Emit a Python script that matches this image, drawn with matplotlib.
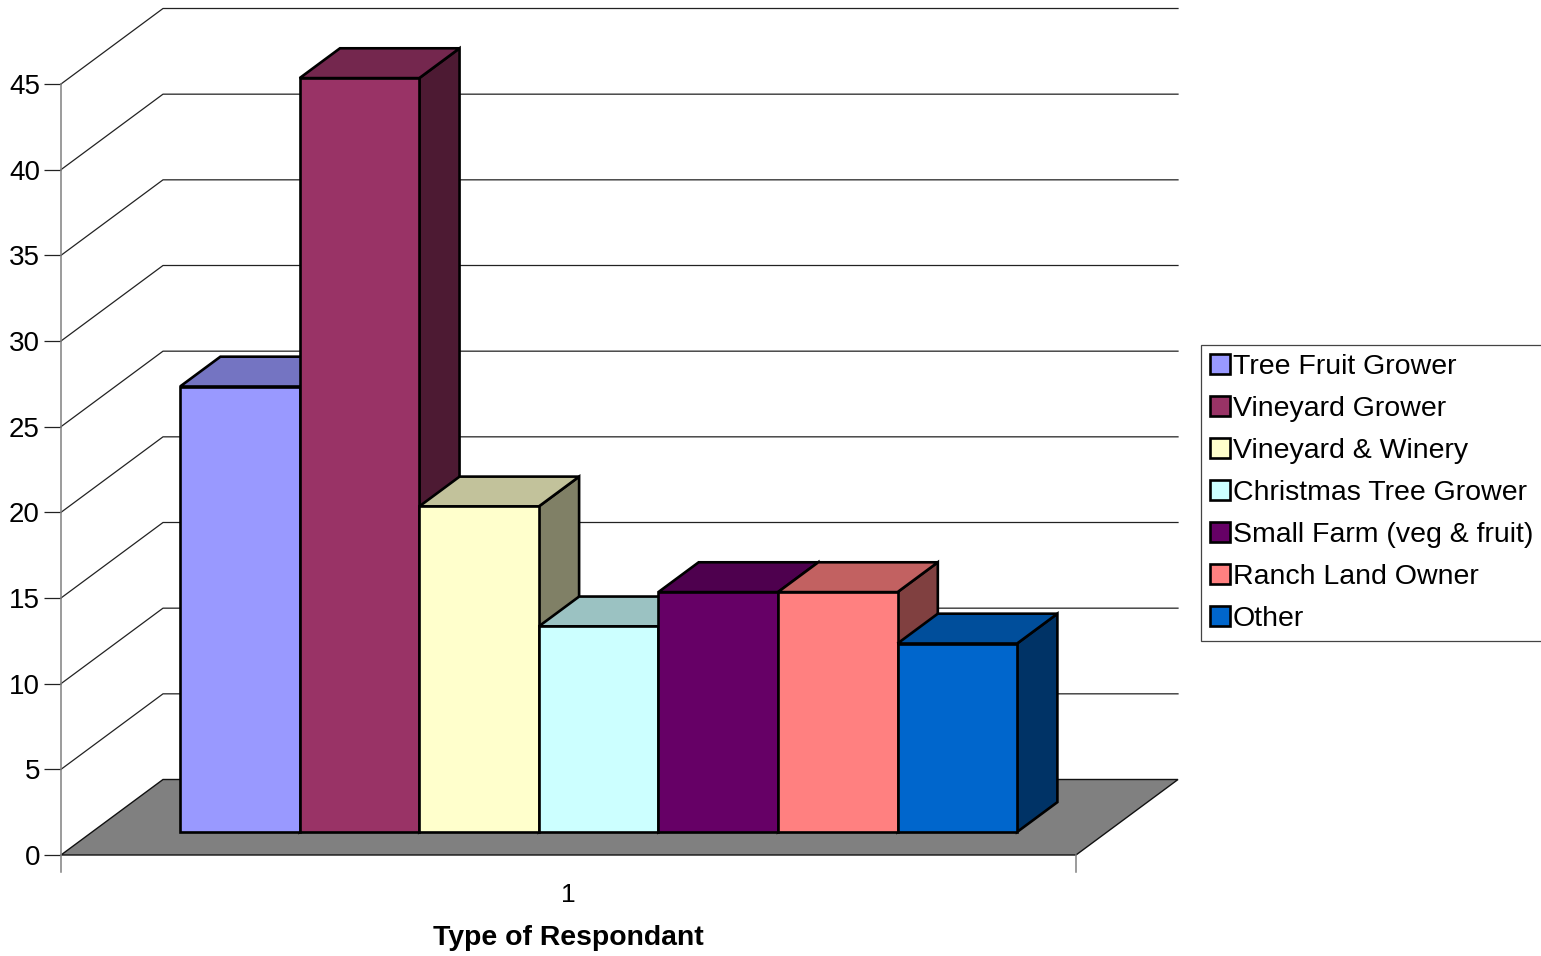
import numpy as np
import matplotlib
matplotlib.use('Agg')
import matplotlib.pyplot as plt
from matplotlib.patches import Patch

plt.rcParams['font.family'] = ['Liberation Sans', 'DejaVu Sans']

# Data
categories = ['Tree Fruit Grower', 'Vineyard Grower', 'Vineyard & Winery', 'Christmas Tree Grower',
              'Small Farm (veg & fruit)', 'Ranch Land Owner', 'Other']
values = [26, 44, 19, 12, 14, 14, 11]
colors = ['#9999FF', '#993366', '#FFFFCC', '#CCFFFF', '#660066', '#FF8080', '#0066CC']
y_ticks = [0, 5, 10, 15, 20, 25, 30, 35, 40, 45]

W, H = 1541, 956
GRID = '#222222'
AXIS = '#808080'
BAR_LW = 1.9


def shade(color, k):
    return tuple(c * k for c in matplotlib.colors.to_rgb(color))


fig = plt.figure(figsize=(W / 100, H / 100), dpi=100)
# axes is the front plane of the 3D box: x in bar widths, y in chart values
ax = fig.add_axes([61 / W, 1 - 855 / H, (1076 - 61) / W, (855 - 84) / H])
bar_w = 119.57
x_min, x_max = -88 / bar_w, (1076 - 149) / bar_w
ax.set_xlim(x_min, x_max)
ax.set_ylim(0, 45)
y_px = (855 - 84) / 45

# one unit of depth goes this far in data units
DX = 102 / bar_w
DY = 75.5 / y_px
D_FRONT, D_BACK = 0.305, 0.70


def proj(x, y, d):
    return x + d * DX, y + d * DY


def face(points, **kw):
    xs, ys = zip(*[proj(*p) for p in points])
    ax.fill(xs, ys, clip_on=False, joinstyle='miter', **kw)


# wall grid lines
for v in y_ticks[1:]:
    xs, ys = zip(proj(x_min, v, 0), proj(x_min, v, 1), proj(x_max, v, 1))
    ax.plot(xs, ys, color=GRID, lw=0.9, clip_on=False, zorder=1)

# floor
face([(x_min, 0, 0), (x_max, 0, 0), (x_max, 0, 1), (x_min, 0, 1)],
     facecolor='#808080', edgecolor='#111111', lw=1.0, zorder=1.5)

# bars, left to right so each one covers the side of the one before
for i, (val, col) in enumerate(zip(values, colors)):
    z = 2 + i
    l, r = i, i + 1
    face([(r, 0, D_FRONT), (r, 0, D_BACK), (r, val, D_BACK), (r, val, D_FRONT)],
         facecolor=shade(col, 0.5), edgecolor='black', lw=BAR_LW, zorder=z)
    face([(l, val, D_FRONT), (r, val, D_FRONT), (r, val, D_BACK), (l, val, D_BACK)],
         facecolor=shade(col, 0.76), edgecolor='black', lw=BAR_LW, zorder=z)
    face([(l, 0, D_FRONT), (r, 0, D_FRONT), (r, val, D_FRONT), (l, val, D_FRONT)],
         facecolor=col, edgecolor='black', lw=BAR_LW, zorder=z + 0.5)

for s in ['top', 'right', 'bottom']:
    ax.spines[s].set_visible(False)
ax.spines['left'].set_color(AXIS)
ax.spines['left'].set_linewidth(1.1)
ax.patch.set_visible(False)

ax.set_yticks(y_ticks)
ax.tick_params(axis='y', length=12.2, width=0.9, color=GRID, pad=3, labelsize=20)

# x axis stubs below the floor
stub = 17 / y_px
ax.plot([x_min, x_min], [0, -stub], color=AXIS, lw=1.1, clip_on=False)
ax.plot([x_max, x_max], [0, -stub], color=AXIS, lw=1.1, clip_on=False)
ax.set_xticks([(x_min + x_max) / 2])
ax.set_xticklabels(['1'], fontsize=19)
ax.tick_params(axis='x', length=0, pad=20)
ax.set_xlabel('Type of Respondant', fontsize=20.4, fontweight='bold', labelpad=13)

handles = [Patch(facecolor=c, edgecolor='black', lw=BAR_LW) for c in colors]
leg = fig.legend(handles, categories, loc='upper left', bbox_to_anchor=(1201 / W, 1 - 345 / H),
                 fontsize=20.5, frameon=True, fancybox=False, edgecolor='#444444', framealpha=1,
                 borderaxespad=0, borderpad=0.33, labelspacing=0.56,
                 handlelength=0.68, handleheight=0.7, handletextpad=0.1)
leg.get_frame().set_linewidth(0.9)

fig.savefig('out.png', dpi=100)
